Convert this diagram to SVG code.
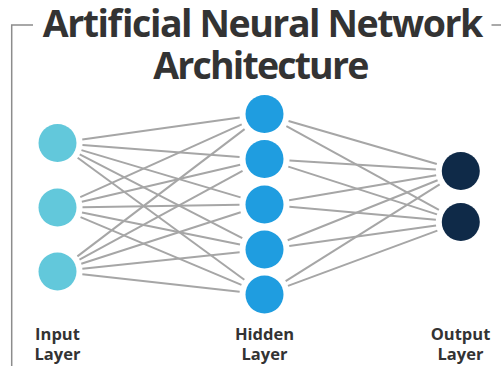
<svg xmlns="http://www.w3.org/2000/svg" width="501" height="366" viewBox="0 0 501 366">
<style>
.title{font-family:"Open Sans","Liberation Sans",sans-serif;font-weight:700;font-size:37.5px;fill:#333333;text-anchor:middle}
.lbl{font-family:"Open Sans","Liberation Sans",sans-serif;font-weight:700;font-size:16.5px;fill:#333333;text-anchor:middle}
.frame{stroke:#8c8c8c;stroke-width:1.5;fill:none}
.edge{stroke:#a6a6a6;stroke-width:2;fill:none}
.in{fill:#62c8db}
.hid{fill:#1f9de0}
.out{fill:#0f2a48}
</style>
<rect width="501" height="366" fill="#ffffff"/>
<g id="frame">
<path class="frame" d="M33,25 H11.7 V366"/>
<path class="frame" d="M491.5,25 H501"/>
</g>
<g id="title">
<text class="title" x="263" y="37.3" textLength="440.5" lengthAdjust="spacing">Artificial Neural Network</text>
<text class="title" x="261.3" y="79" textLength="216" lengthAdjust="spacing">Architecture</text>
</g>
<g id="connectors">
<line class="edge" x1="82.26" y1="139.53" x2="239.74" y2="117.47"/>
<line class="edge" x1="82.43" y1="144.93" x2="239.57" y2="157.07"/>
<line class="edge" x1="81.46" y1="150.12" x2="240.54" y2="197.38"/>
<line class="edge" x1="79.73" y1="154.44" x2="242.27" y2="238.06"/>
<line class="edge" x1="77.67" y1="157.77" x2="244.33" y2="279.73"/>
<line class="edge" x1="80.28" y1="197.21" x2="241.72" y2="124.29"/>
<line class="edge" x1="81.84" y1="201.80" x2="240.16" y2="164.70"/>
<line class="edge" x1="82.50" y1="207.14" x2="239.50" y2="204.86"/>
<line class="edge" x1="82.00" y1="212.47" x2="240.00" y2="244.53"/>
<line class="edge" x1="80.55" y1="217.19" x2="241.45" y2="284.81"/>
<line class="edge" x1="77.40" y1="256.36" x2="244.60" y2="129.14"/>
<line class="edge" x1="79.47" y1="259.56" x2="242.53" y2="170.94"/>
<line class="edge" x1="81.29" y1="263.80" x2="240.71" y2="212.20"/>
<line class="edge" x1="82.36" y1="268.86" x2="239.64" y2="252.14"/>
<line class="edge" x1="82.35" y1="274.26" x2="239.65" y2="291.74"/>
<line class="edge" x1="288.51" y1="120.97" x2="436.79" y2="164.03"/>
<line class="edge" x1="286.40" y1="126.05" x2="438.90" y2="209.95"/>
<line class="edge" x1="289.45" y1="160.53" x2="435.85" y2="169.47"/>
<line class="edge" x1="288.31" y1="166.64" x2="436.99" y2="214.36"/>
<line class="edge" x1="289.14" y1="200.29" x2="436.16" y2="175.21"/>
<line class="edge" x1="289.40" y1="206.72" x2="435.90" y2="219.78"/>
<line class="edge" x1="287.71" y1="240.22" x2="437.59" y2="180.28"/>
<line class="edge" x1="289.26" y1="246.03" x2="436.04" y2="225.47"/>
<line class="edge" x1="285.66" y1="281.19" x2="439.64" y2="184.31"/>
<line class="edge" x1="287.95" y1="285.84" x2="437.35" y2="230.66"/>
</g>
<g id="input-layer">
<circle id="in1" class="in" cx="57.5" cy="143" r="19"/>
<circle id="in2" class="in" cx="57.5" cy="207.5" r="19"/>
<circle id="in3" class="in" cx="57.5" cy="271.5" r="19"/>
<text class="lbl" x="57.5" y="340">Input</text>
<text class="lbl" x="57.5" y="359.5">Layer</text>
</g>
<g id="hidden-layer">
<circle id="h1" class="hid" cx="264.5" cy="114" r="19"/>
<circle id="h2" class="hid" cx="264.5" cy="159" r="19"/>
<circle id="h3" class="hid" cx="264.5" cy="204.5" r="19"/>
<circle id="h4" class="hid" cx="264.5" cy="249.5" r="19"/>
<circle id="h5" class="hid" cx="264.5" cy="294.5" r="19"/>
<text class="lbl" x="264.5" y="340">Hidden</text>
<text class="lbl" x="264.5" y="359.5">Layer</text>
</g>
<g id="output-layer">
<circle id="o1" class="out" cx="460.8" cy="171" r="19"/>
<circle id="o2" class="out" cx="460.8" cy="222" r="19"/>
<text class="lbl" x="460.5" y="340">Output</text>
<text class="lbl" x="460.5" y="359.5">Layer</text>
</g>
</svg>
